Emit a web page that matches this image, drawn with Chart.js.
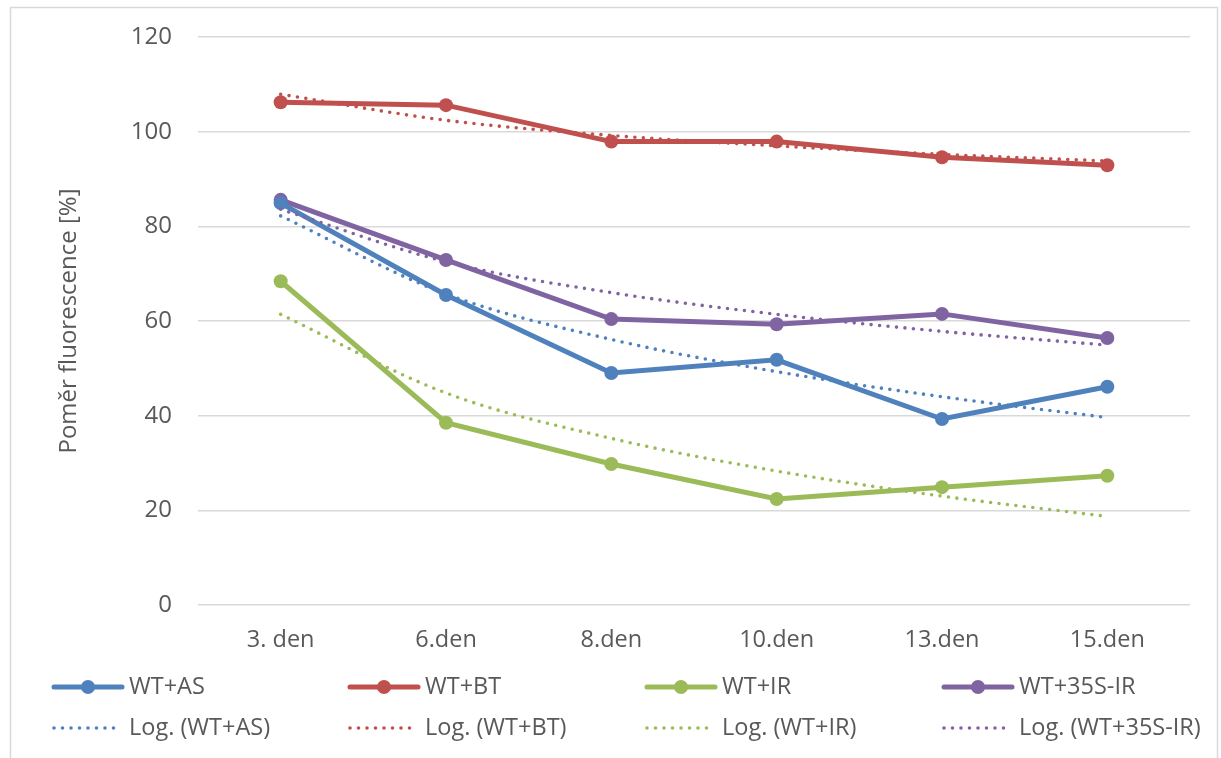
<!DOCTYPE html>
<html>
<head>
<meta charset="utf-8">
<script src="https://cdn.jsdelivr.net/npm/chart.js@4/dist/chart.umd.min.js"></script>
<style>
  html, body { margin: 0; padding: 0; background: #ffffff; }
  #wrap { width: 1221px; height: 758px; position: relative; }
</style>
</head>
<body>
<div id="wrap"><canvas id="c" width="1221" height="758"></canvas></div>
<script>
// Sampling days
const categories = ['3. den', '6.den', '8.den', '10.den', '13.den', '15.den'];

// Measured fluorescence ratio [%]
const wtAS  = [84.9, 65.5, 49.0, 51.8, 39.3, 46.1];
const wtBT  = [106.2, 105.6, 97.9, 97.9, 94.6, 92.9];
const wtIR  = [68.4, 38.5, 29.8, 22.4, 24.9, 27.3];
const wt35S = [85.6, 72.9, 60.4, 59.3, 61.5, 56.4];

// Logarithmic trend values at each day
const logAS  = [82.2, 65.7, 56.1, 49.3, 44.0, 39.6];
const logBT  = [107.9, 102.4, 99.2, 97.0, 95.2, 93.8];
const logIR  = [61.4, 44.8, 35.2, 28.3, 23.0, 18.7];
const log35S = [83.6, 72.5, 66.0, 61.4, 57.8, 54.9];

// Axis ticks
const yTicks = [0, 20, 40, 60, 80, 100, 120];

const seriesNames = ['WT+AS', 'WT+BT', 'WT+IR', 'WT+35S-IR'];
const trendNames = ['Log. (WT+AS)', 'Log. (WT+BT)', 'Log. (WT+IR)', 'Log. (WT+35S-IR)'];

const COLORS = ['#4F81BD', '#C0504D', '#9BBB59', '#8064A2'];
const TEXT = '#595959';
const GRID = '#D9D9D9';
const FONT = "'Open Sans', 'Liberation Sans', sans-serif";

function seriesDs(label, data, color) {
  return {
    label, data,
    borderColor: color, backgroundColor: color,
    borderWidth: 5, pointRadius: 7, pointHoverRadius: 7,
    pointBorderWidth: 0, tension: 0, order: 2, kind: 'series'
  };
}
function trendDs(label, data, color) {
  return {
    label, data,
    borderColor: color, backgroundColor: color,
    borderWidth: 3.6, borderDash: [0, 8.5], borderCapStyle: 'round',
    pointRadius: 0, pointHoverRadius: 0,
    cubicInterpolationMode: 'monotone', order: 1, kind: 'trend'
  };
}

const datasets = [
  seriesDs(seriesNames[0], wtAS, COLORS[0]),
  seriesDs(seriesNames[1], wtBT, COLORS[1]),
  seriesDs(seriesNames[2], wtIR, COLORS[2]),
  seriesDs(seriesNames[3], wt35S, COLORS[3]),
  trendDs(trendNames[0], logAS, COLORS[0]),
  trendDs(trendNames[1], logBT, COLORS[1]),
  trendDs(trendNames[2], logIR, COLORS[2]),
  trendDs(trendNames[3], log35S, COLORS[3])
];

// Outer frame and two-row legend grid drawn beneath the plot
const frameAndLegend = {
  id: 'frameAndLegend',
  beforeDraw(chart) {
    const ctx = chart.ctx;
    ctx.save();
    ctx.fillStyle = '#ffffff';
    ctx.fillRect(0, 0, chart.width, chart.height);
    ctx.strokeStyle = GRID;
    ctx.lineWidth = 1.5;
    ctx.strokeRect(10.5, 7.5, 1207, 800);
    ctx.restore();
  },
  afterDraw(chart) {
    const ctx = chart.ctx;
    const colX = [52, 348, 645, 942];
    const rowY = [687, 728];
    ctx.save();
    ctx.font = '23.5px ' + FONT;
    ctx.textBaseline = 'middle';
    ctx.fillStyle = TEXT;
    chart.data.datasets.forEach((ds, i) => {
      const col = i % 4;
      const row = ds.kind === 'series' ? 0 : 1;
      const x = colX[col], y = rowY[row];
      ctx.strokeStyle = ds.borderColor;
      if (row === 0) {
        ctx.setLineDash([]);
        ctx.lineCap = 'round';
        ctx.lineWidth = 5;
        ctx.beginPath();
        ctx.moveTo(x + 2, y);
        ctx.lineTo(x + 70, y);
        ctx.stroke();
        ctx.fillStyle = ds.borderColor;
        ctx.beginPath();
        ctx.arc(x + 36, y, 7, 0, Math.PI * 2);
        ctx.fill();
        ctx.fillStyle = TEXT;
        ctx.fillText(ds.label, x + 77, y);
      } else {
        ctx.setLineDash([0, 8.5]);
        ctx.lineCap = 'round';
        ctx.lineWidth = 3.6;
        ctx.beginPath();
        ctx.moveTo(x + 2, y);
        ctx.lineTo(x + 66, y);
        ctx.stroke();
        ctx.setLineDash([]);
        ctx.fillStyle = TEXT;
        ctx.fillText(ds.label, x + 77, y);
      }
    });
    ctx.restore();
  }
};

new Chart(document.getElementById('c'), {
  type: 'line',
  data: { labels: categories, datasets },
  options: {
    responsive: false,
    animation: false,
    events: [],
    layout: { padding: { left: 55, right: 31, top: 37, bottom: 103 } },
    plugins: { legend: { display: false }, tooltip: { enabled: false } },
    scales: {
      x: {
        offset: true,
        grid: { display: false, drawTicks: false, offset: true },
        border: { display: false },
        ticks: { color: TEXT, font: { family: FONT, size: 23.5 }, padding: 21, maxRotation: 0 },
        afterFit(s) { s.height = 50; s.paddingLeft = 0; s.paddingRight = 0; }
      },
      y: {
        min: 0, max: 120,
        afterBuildTicks(s) { s.ticks = yTicks.map(v => ({ value: v })); },
        grid: { color: GRID, lineWidth: 1.5, drawTicks: false },
        border: { display: false },
        ticks: { color: TEXT, font: { family: FONT, size: 24 }, padding: 26 },
        title: {
          display: true, text: 'Poměr fluorescence [%]',
          color: TEXT, font: { family: FONT, size: 24 }, padding: { top: 0, bottom: 0 }
        },
        afterFit(s) { s.width = 143; s.paddingTop = 0; s.paddingBottom = 0; }
      }
    }
  },
  plugins: [frameAndLegend]
});
</script>
</body>
</html>
